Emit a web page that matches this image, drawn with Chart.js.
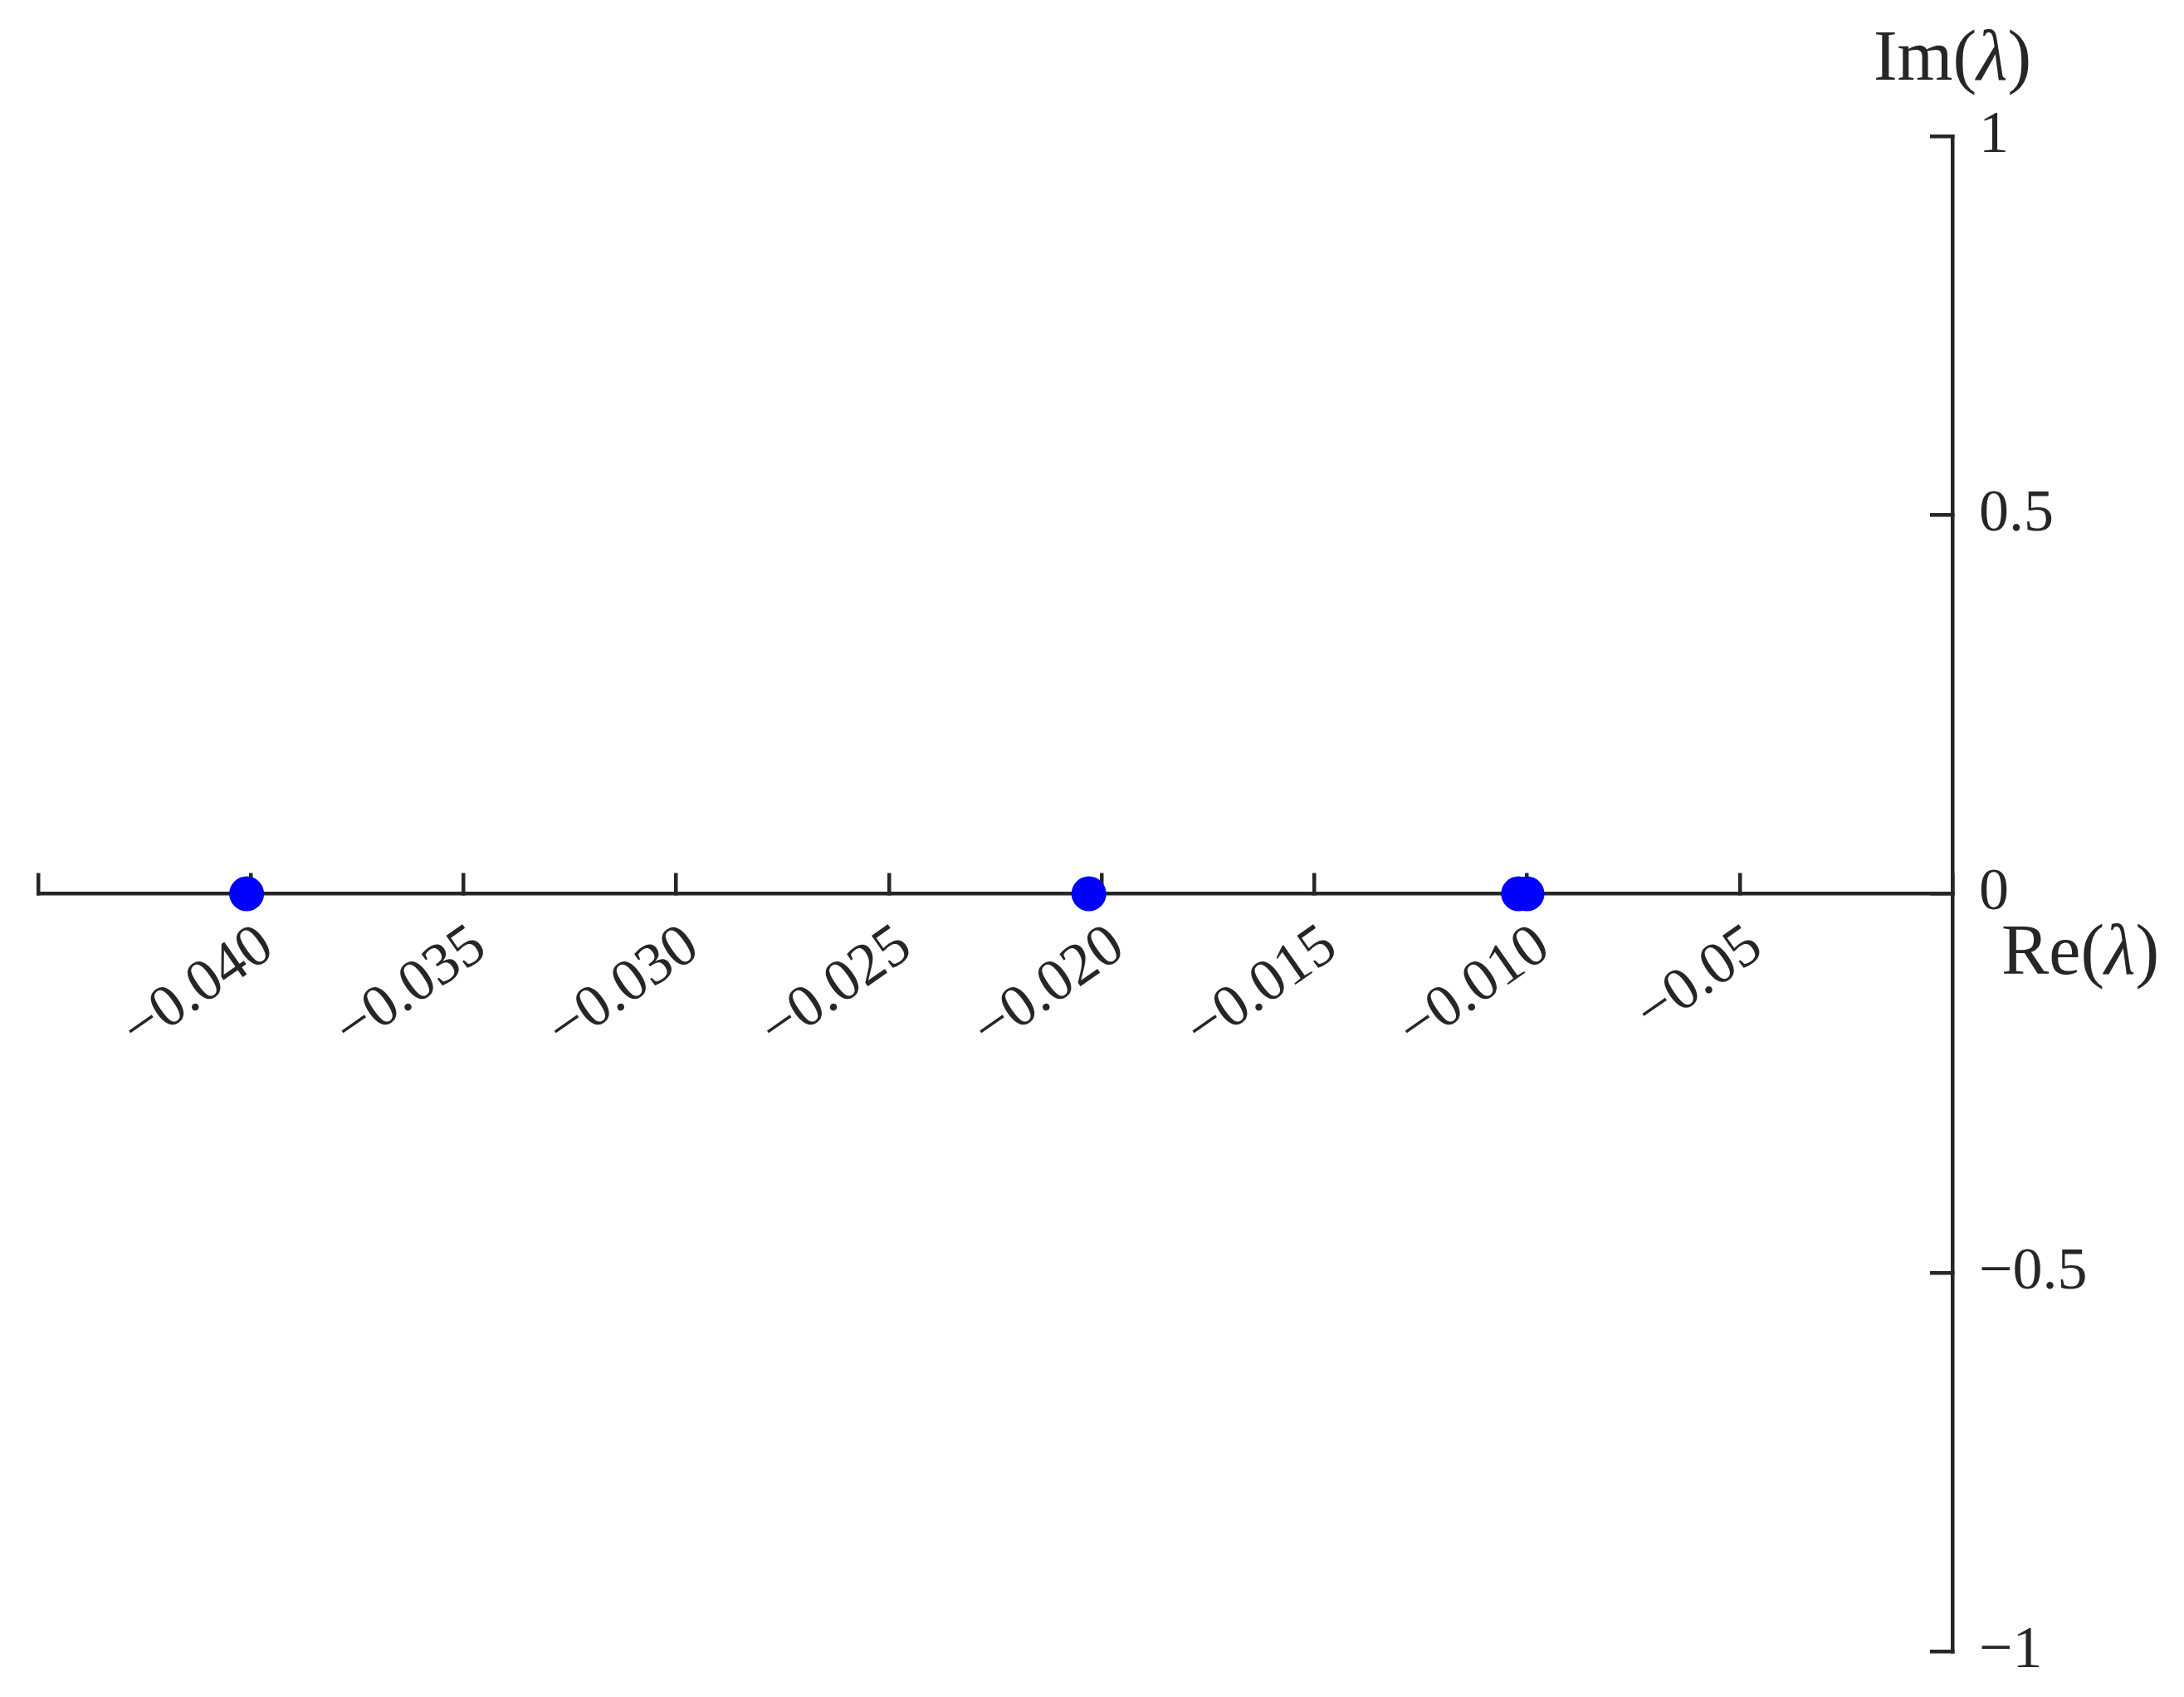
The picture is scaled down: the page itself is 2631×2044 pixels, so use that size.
<!DOCTYPE html>
<html>
<head>
<meta charset="utf-8">
<script src="https://cdn.jsdelivr.net/npm/chart.js@4.4.1/dist/chart.umd.min.js"></script>
<style>
  html, body { margin: 0; padding: 0; background: #fff; }
</style>
</head>
<body>
<canvas id="myChart" width="2631" height="2044"></canvas>
<script>
// eigenvalues: real and imaginary parts
const reValues = [-0.0401, -0.0203, -0.0102, -0.0100];
const imValues = [0, 0, 0, 0];

// ticks as printed on the original figure
const xTickValues = [-0.045, -0.040, -0.035, -0.030, -0.025, -0.020, -0.015, -0.010, -0.005, 0];
const xTickLabels = ['', '−0.040', '−0.035', '−0.030', '−0.025', '−0.020', '−0.015', '−0.010', '−0.05', ''];
const yTickValues = [-1, -0.5, 0, 0.5, 1];
const yTickLabels = ['−1', '−0.5', '0', '0.5', '1'];

const xTitle = ['Re(', 'λ', ')'];
const yTitle = ['Im(', 'λ', ')'];

const axisColor = '#262626';
const serif = 'Liberation Serif';

function drawTitle(ctx, parts, x, y, align) {
    const fonts = ['86px "' + serif + '"', 'italic 86px "' + serif + '"', '86px "' + serif + '"'];
    ctx.save();
    ctx.fillStyle = axisColor;
    ctx.textBaseline = 'alphabetic';
    ctx.textAlign = 'left';
    let widths = parts.map(function (p, i) {
        ctx.font = fonts[i];
        return ctx.measureText(p).width;
    });
    let total = widths.reduce(function (a, b) { return a + b; }, 0);
    let cx = align === 'center' ? x - total / 2 : x;
    parts.forEach(function (p, i) {
        ctx.font = fonts[i];
        ctx.fillText(p, cx, y);
        cx += widths[i];
    });
    ctx.restore();
}

// axis titles placed next to the origin / top of the y axis
const axisTitles = {
    id: 'axisTitles',
    afterDraw: function (chart) {
        let x0 = chart.scales.x.getPixelForValue(0);
        let y0 = chart.scales.y.getPixelForValue(0);
        let yTop = chart.scales.y.getPixelForValue(1);
        drawTitle(chart.ctx, xTitle, x0 + 59, y0 + 96, 'left');
        drawTitle(chart.ctx, yTitle, x0, yTop - 68, 'center');
    }
};

let ctx = document.getElementById('myChart').getContext('2d');
let myChart = new Chart(ctx, {
    type: 'scatter',
    data: {
        datasets: [{
            data: reValues.map(function (v, i) { return {x: v, y: imValues[i]}; }),
            backgroundColor: '#0000ff',
            borderWidth: 0,
            pointRadius: 21,
            pointHoverRadius: 21
        }]
    },
    options: {
        responsive: false,
        animation: false,
        layout: {padding: {left: 46, top: 164, right: 0, bottom: 55}},
        plugins: {
            legend: {display: false},
            tooltip: {enabled: false}
        },
        scales: {
            x: {
                type: 'linear',
                min: -0.045,
                max: 0,
                position: {y: 0},
                afterBuildTicks: function (s) { s.ticks = xTickValues.map(function (v) { return {value: v}; }); },
                afterFit: function (s) {
                    s.height = 0;
                    s.paddingLeft = 0;
                    s.paddingRight = 0;
                },
                grid: {drawOnChartArea: false, drawTicks: true, tickLength: -27, color: axisColor, lineWidth: 4.5},
                border: {display: true, color: axisColor, width: 4.5},
                ticks: {
                    autoSkip: false,
                    minRotation: 35,
                    maxRotation: 35,
                    padding: 48,
                    labelOffset: 20,
                    color: axisColor,
                    font: {family: serif, size: 72},
                    callback: function (v, i) { return xTickLabels[i]; }
                }
            },
            y: {
                type: 'linear',
                min: -1,
                max: 1,
                position: 'right',
                afterBuildTicks: function (s) { s.ticks = yTickValues.map(function (v) { return {value: v}; }); },
                afterFit: function (s) {
                    s.width = 279;
                    s.paddingTop = 0;
                    s.paddingBottom = 0;
                },
                grid: {drawOnChartArea: false, drawTicks: true, tickLength: -27, color: axisColor, lineWidth: 4.5},
                border: {display: true, color: axisColor, width: 4.5},
                ticks: {
                    autoSkip: false,
                    padding: 59,
                    color: axisColor,
                    font: {family: serif, size: 72},
                    callback: function (v, i) { return yTickLabels[i]; }
                }
            }
        }
    },
    plugins: [axisTitles]
});
</script>
</body>
</html>
